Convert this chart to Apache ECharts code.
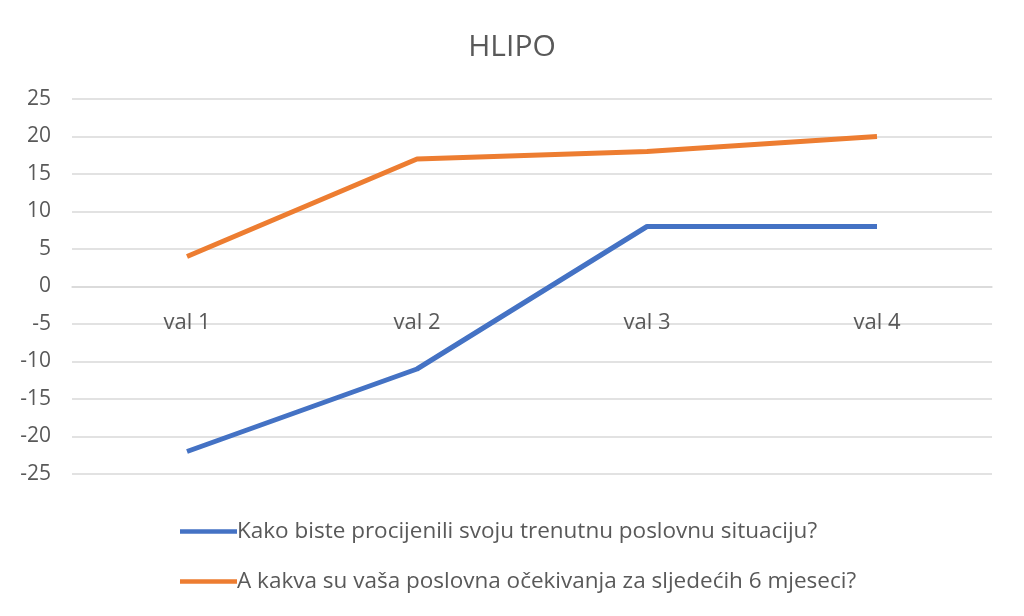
<!DOCTYPE html>
<html><head><meta charset="utf-8">
<script src="https://cdn.jsdelivr.net/npm/echarts@6/dist/echarts.min.js"></script>
<style>html,body{margin:0;padding:0;background:#fff}#c{width:1024px;height:616px}</style>
</head><body><div id="c"></div>
<script>
var categories = ['val 1', 'val 2', 'val 3', 'val 4'];
var seriesNames = ['Kako biste procijenili svoju trenutnu poslovnu situaciju?', 'A kakva su vaša poslovna očekivanja za sljedećih 6 mjeseci?'];
var current = [-22, -11, 8, 8];
var expected = [4, 17, 18, 20];
var yTicks = {min: -25, max: 25, interval: 5};

var font = '"Open Sans", "Noto Sans", sans-serif';
var gridTop = 99, gridBottom = 142, chartH = 616;
var plotH = chartH - gridTop - gridBottom;
var zeroOffset = -plotH * (0 - yTicks.min) / (yTicks.max - yTicks.min);
var chart = echarts.init(document.getElementById('c'));
chart.setOption({
  animation: false,
  title: {text: 'HLIPO', left: 'center', top: 27, textStyle: {fontFamily: font, fontSize: 30, fontWeight: 'normal', color: '#595959'}},
  grid: {left: 72, right: 32, top: gridTop, bottom: gridBottom},
  legend: {
    orient: 'vertical', left: 175, top: 515, itemWidth: 57, itemHeight: 20, itemGap: 27,
    textStyle: {fontFamily: font, fontSize: 22.5, color: '#595959', padding: [0,0,0,-5]},
    data: [
      {name: seriesNames[0], icon: 'path://M0,7.75 L57,7.75 L57,12.25 L0,12.25 Z'},
      {name: seriesNames[1], icon: 'path://M0,7.75 L57,7.75 L57,12.25 L0,12.25 Z'}
    ]
  },
  xAxis: {
    type: 'category', data: categories, boundaryGap: true, offset: zeroOffset,
    axisLine: {show: true, onZero: false, lineStyle: {color: '#d9d9d9', width: 1.5}},
    axisTick: {show: false},
    axisLabel: {fontFamily: font, fontSize: 22, color: '#595959', margin: 25}
  },
  yAxis: {
    type: 'value', min: yTicks.min, max: yTicks.max, interval: yTicks.interval,
    axisLine: {show: false}, axisTick: {show: false},
    splitLine: {lineStyle: {color: '#d9d9d9', width: 1.5}},
    axisLabel: {fontFamily: font, fontSize: 21, color: '#595959', margin: 21}
  },
  series: [
    {name: seriesNames[0], type: 'line', data: current, symbol: 'none', lineStyle: {color: '#4472C4', width: 5}, itemStyle: {color: '#4472C4'}},
    {name: seriesNames[1], type: 'line', data: expected, symbol: 'none', lineStyle: {color: '#ED7D31', width: 5}, itemStyle: {color: '#ED7D31'}}
  ]
});
</script></body></html>
